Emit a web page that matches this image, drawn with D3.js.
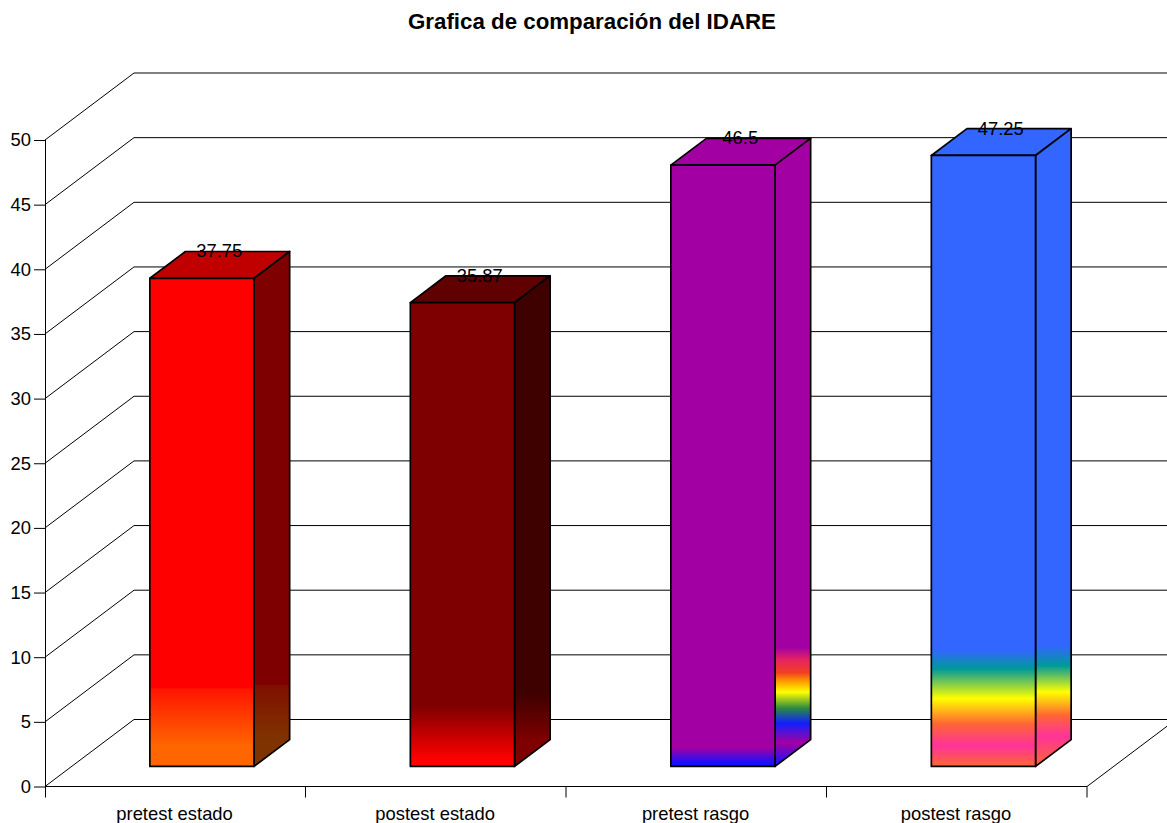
<!DOCTYPE html>
<html>
<head>
<meta charset="utf-8">
<title>Grafica de comparación del IDARE</title>
<script src="https://cdnjs.cloudflare.com/ajax/libs/d3/7.8.5/d3.min.js"></script>
<style>
  html, body { margin: 0; padding: 0; background: #fff; overflow: hidden; }
  svg { display: block; }
  text { font-family: "Liberation Sans", Arial, sans-serif; fill: #000; }
</style>
</head>
<body>
<svg id="chart" width="1167" height="823"></svg>
<script>
const chartTitle = "Grafica de comparación del IDARE";
const categories = ["pretest estado", "postest estado", "pretest rasgo", "postest rasgo"];
const values = [37.75, 35.87, 46.5, 47.25];
const yTicks = [0, 5, 10, 15, 20, 25, 30, 35, 40, 45, 50];

// Each face fades through these [axis level, colour] stops, highest level first.
const frontRamps = [
  [[6.05, "#ff0000"], [6.0, "#ff1400"], [1.55, "#ff6600"], [0, "#ff6600"]],
  [[4.7, "#7f0000"], [0.5, "#ff0000"], [0, "#ff0000"]],
  [[1.45, "#a300a3"], [0.2, "#1010ff"], [0, "#1010ff"]],
  [[9, "#3366ff"], [7.55, "#009999"], [5.25, "#ffff00"], [3.3, "#ff6633"], [1.6, "#ff3399"], [0, "#ff6633"]]
];
const sideRamps = [
  [[6.3, "#7f0000"], [6.25, "#7f1000"], [2.15, "#7f3300"], [0, "#7f3300"]],
  [[5.6, "#3f0000"], [2, "#7f0000"], [0, "#7f0000"]],
  [[9.2, "#a300a3"], [8.2, "#e8255f"], [7.25, "#f04020"], [6.6, "#ff9900"], [5.75, "#ffff00"], [4.5, "#2a8a40"], [3.35, "#1020ff"], [1.85, "#a300a3"], [0, "#1010ff"]],
  [[9.35, "#3366ff"], [7.8, "#009999"], [5.75, "#ffff00"], [3.95, "#ff6633"], [2.4, "#ff3399"], [0, "#ff6633"]]
];
const topColours = ["#c00000", "#600000", "#a300a3", "#3366ff"];

const svg = d3.select("#chart");
const y = d3.scaleLinear().domain([0, 50]).range([786.5, 140]);
const x = d3.scaleBand().domain(categories).range([45, 1087]);
const bandInset = 0.3;   // empty share of the band on each side of a bar
const depth = { dx: 89, dy: -67 };
const zFront = 0.3, zBack = 0.7;
const labelSize = 18.4;

// Oblique projection: z runs from the front plane (0) to the back wall (1).
const project = (px, value, z) => [px + depth.dx * z, y(value) + depth.dy * z];
const polyPoints = pts => pts.map(p => p.join(",")).join(" ");

const defs = svg.append("defs");
function addRamp(id, stops) {
  const y1 = project(0, stops[0][0], zFront)[1];
  const y2 = project(0, stops[stops.length - 1][0], zFront)[1];
  const g = defs.append("linearGradient").attr("id", id)
    .attr("gradientUnits", "userSpaceOnUse")
    .attr("x1", 0).attr("x2", 0).attr("y1", y1).attr("y2", y2);
  stops.forEach(([level, colour]) => {
    const py = project(0, level, zFront)[1];
    g.append("stop").attr("offset", (py - y1) / (y2 - y1)).attr("stop-color", colour);
  });
}
categories.forEach((c, i) => {
  addRamp("front" + i, frontRamps[i]);
  addRamp("side" + i, sideRamps[i]);
});

// Walls and floor grid: side-wall diagonal plus back-wall horizontal per tick.
const grid = svg.append("g").attr("fill", "none").attr("stroke", "#000").attr("stroke-width", 1);
grid.selectAll("polyline").data(yTicks).join("polyline")
  .attr("points", d => polyPoints([
    project(x.range()[0], d, 0),
    project(x.range()[0], d, 1),
    project(x.range()[1], d, 1)
  ]));
grid.append("line")
  .attr("x1", x.range()[1]).attr("y1", y(0))
  .attr("x2", x.range()[1] + depth.dx).attr("y2", y(0) + depth.dy);

// Value axis
const yAxis = svg.append("g")
  .attr("transform", `translate(${x.range()[0]},0)`)
  .call(d3.axisLeft(y).tickValues(yTicks).tickSize(11).tickSizeOuter(0).tickPadding(3));
yAxis.select(".domain").attr("stroke", "#000").attr("d", `M0.5,${y(50)}V${y(0) + 11}`);
yAxis.selectAll("text").style("font-size", labelSize + "px");

// Category axis: labels at band centres, ticks at band edges.
const xAxis = svg.append("g")
  .attr("transform", `translate(0,${y(0)})`)
  .call(d3.axisBottom(x).tickSize(0).tickSizeOuter(0).tickPadding(20));
xAxis.select(".domain").attr("d", `M${x.range()[0]},0H${x.range()[1]}`);
xAxis.selectAll("text").style("font-size", labelSize + "px").attr("dx", -0.7);
xAxis.selectAll("line.edge").data(categories).join("line")
  .attr("class", "edge").attr("stroke", "#000")
  .attr("x1", d => x(d) + x.bandwidth()).attr("x2", d => x(d) + x.bandwidth())
  .attr("y1", 0).attr("y2", 11);

// Bars as three visible faces of a box
const bars = svg.append("g").selectAll("g").data(categories).join("g")
  .attr("stroke", "#000").attr("stroke-width", 1.7).attr("stroke-linejoin", "round");
const leftOf = c => x(c) + x.bandwidth() * bandInset;
const rightOf = c => x(c) + x.bandwidth() * (1 - bandInset);

bars.append("polygon")
  .attr("fill", (c, i) => topColours[i])
  .attr("points", (c, i) => polyPoints([
    project(leftOf(c), values[i], zFront), project(rightOf(c), values[i], zFront),
    project(rightOf(c), values[i], zBack), project(leftOf(c), values[i], zBack)
  ]));
bars.append("polygon")
  .attr("fill", (c, i) => `url(#side${i})`)
  .attr("points", (c, i) => polyPoints([
    project(rightOf(c), values[i], zFront), project(rightOf(c), values[i], zBack),
    project(rightOf(c), 0, zBack), project(rightOf(c), 0, zFront)
  ]));
bars.append("polygon")
  .attr("fill", (c, i) => `url(#front${i})`)
  .attr("points", (c, i) => polyPoints([
    project(leftOf(c), values[i], zFront), project(rightOf(c), values[i], zFront),
    project(rightOf(c), 0, zFront), project(leftOf(c), 0, zFront)
  ]));

// Value labels straddle the rear edge of each bar's top face.
svg.append("g").selectAll("text").data(categories).join("text")
  .attr("text-anchor", "middle")
  .attr("font-size", labelSize)
  .attr("x", (c, i) => project(x(c) + x.bandwidth() / 2, values[i], (zFront + zBack) / 2)[0] - 0.5)
  .attr("y", (c, i) => project(0, values[i], zBack)[1] + 6)
  .text((c, i) => values[i]);

svg.append("text")
  .attr("x", 592).attr("y", 29)
  .attr("text-anchor", "middle")
  .attr("font-size", 22.3).attr("font-weight", "bold")
  .text(chartTitle);
</script>
</body>
</html>
